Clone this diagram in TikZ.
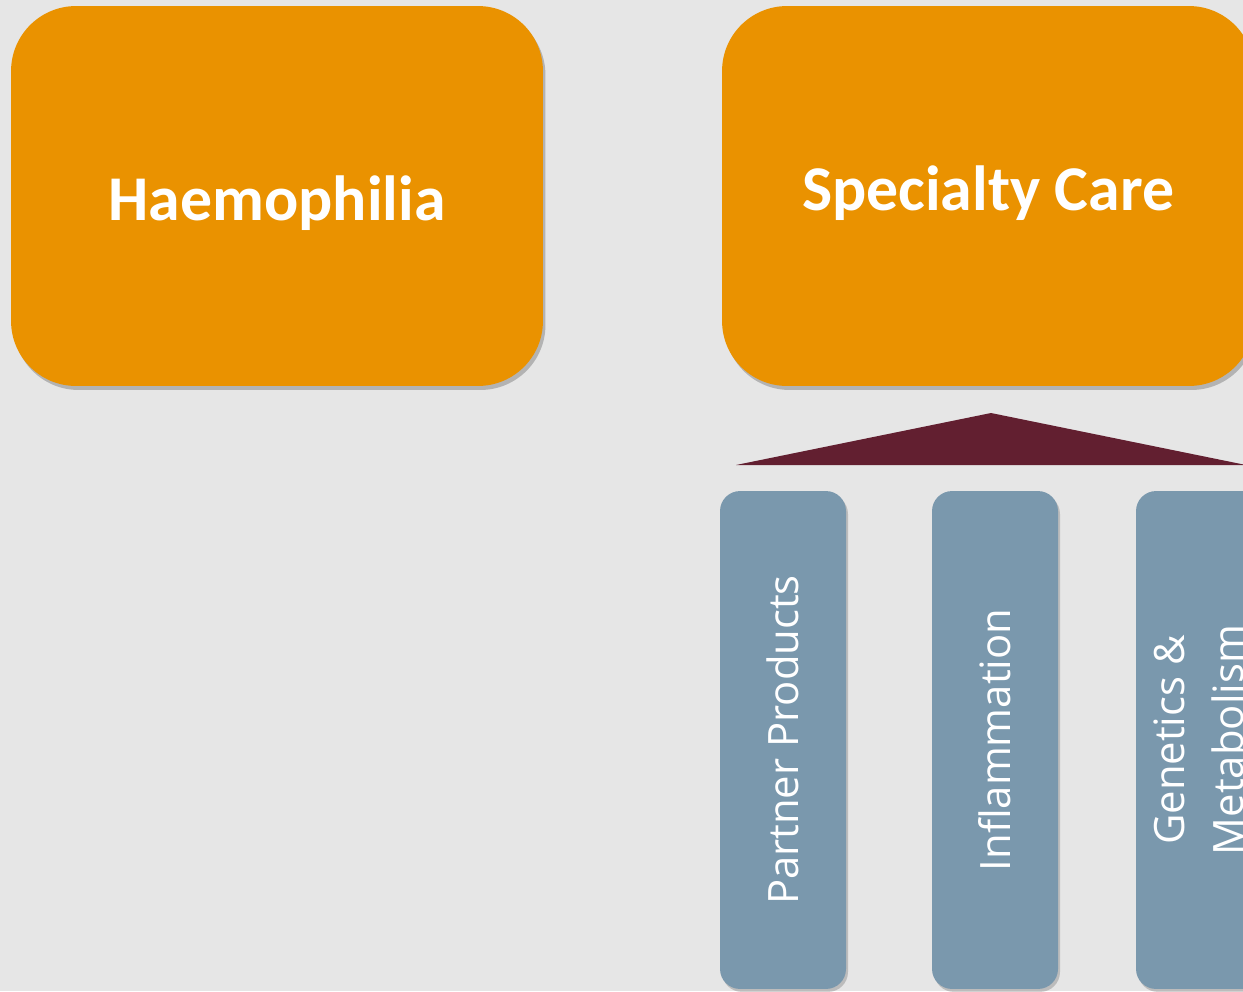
\documentclass[tikz,border=0pt]{standalone}
\usepackage{fontspec}
\setmainfont{Carlito}
\newfontfamily\pillarfont{Open Sans}
\usetikzlibrary{shadows}
\definecolor{bgc}{HTML}{E6E6E6}
\definecolor{orangec}{HTML}{EA9200}
\definecolor{maroonc}{HTML}{621F30}
\definecolor{pillarc}{HTML}{7A98AD}
\tikzset{
  bigbox/.style={fill=orangec, rounded corners=1.3cm, minimum width=10.64cm, minimum height=7.6cm, inner sep=0pt,
    drop shadow={shadow xshift=0.05cm, shadow yshift=-0.08cm, fill=black, opacity=0.22}},
  bigtext/.style={text=white, font=\bfseries\fontsize{36.3}{43}\selectfont, inner sep=0pt},
  pillar/.style={fill=pillarc, rounded corners=0.4cm, minimum width=2.52cm, minimum height=9.96cm, inner sep=0pt,
    drop shadow={shadow xshift=0.04cm, shadow yshift=-0.06cm, fill=black, opacity=0.18}},
  pillartext/.style={rotate=90, text=white, font=\pillarfont\fontsize{23.8}{33.5}\selectfont, align=center, inner sep=0pt}
}
\begin{document}
\begin{tikzpicture}[x=0.02cm, y=-0.02cm]
\useasboundingbox (0,0) rectangle (1243,991);
\fill[bgc] (0,0) rectangle (1243,991);
\clip (0,0) rectangle (1243,991);
\node[bigbox] (haem) at (277,196) {};
\node[bigtext, yshift=-0.15cm] (haemt) at (haem.center) {Haemophilia};
\node[bigbox] (spec) at (988,196) {};
\node[bigtext, yshift=0.06cm] (spect) at (spec.center) {Specialty Care};
\fill[maroonc] (736,465) -- (991,413) -- (1246,465) -- cycle;
\node[pillar] (p1) at (783,740) {};
\node[pillar] (p2) at (995,740) {};
\node[pillar] (p3) at (1199,740) {};
\node[pillartext] (t1) at (p1.center) {Partner Products};
\node[pillartext] (t2) at (p2.center) {Inflammation};
\node[pillartext] (t3) at (p3.center) {Genetics \&\\Metabolism};
\end{tikzpicture}
\end{document}
